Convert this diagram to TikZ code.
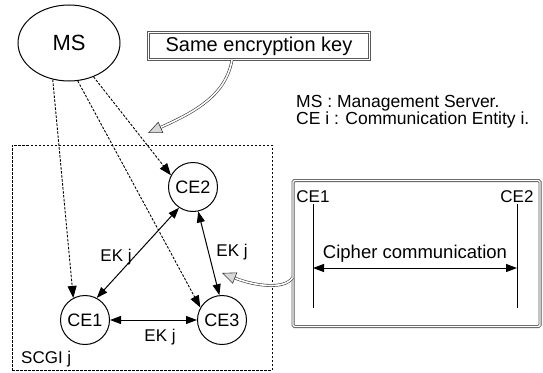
\documentclass[tikz,border=0pt]{standalone}
\usepackage{fontspec}
\setmainfont{Liberation Sans}
\usetikzlibrary{arrows.meta,shapes.geometric}
\begin{document}
\begin{tikzpicture}[x=1pt,y=-1pt,
  ce/.style={circle,draw,line width=1pt,minimum size=49pt,inner sep=0pt,font=\fontsize{18}{20}\selectfont},
  lbl/.style={font=\fontsize{17}{19}\selectfont,inner sep=1pt},
  dasharrow/.style={line width=0.9pt,dash pattern=on 2.5pt off 1.5pt,-{Triangle[length=12pt,width=9pt]}},
  solidarrow/.style={line width=1pt,{Triangle[length=11pt,width=8pt]}-{Triangle[length=11pt,width=8pt]}},
  framebox/.style={draw=gray!70!black,double=white,double distance=1.4pt,line width=0.8pt},
  bigarrow/.style={draw=gray!45!black,double=white,double distance=1.6pt,line width=0.6pt,
    -{Triangle[length=14pt,width=12pt,fill=gray!30,color=gray!45!black,line width=0.6pt]}}
]
\useasboundingbox (0,0) rectangle (543,372);
% MS
\node[ellipse,draw,line width=1pt,minimum width=102pt,minimum height=76pt,font=\fontsize{22}{24}\selectfont] (ms) at (69,43) {MS};
% same encryption key
\node[framebox,minimum width=221pt,minimum height=27pt,inner sep=0pt,font=\fontsize{20}{22}\selectfont] (key) at (259,46) {Same encryption key};
% legend
\node[anchor=west,font=\fontsize{17.5}{19}\selectfont,inner sep=0pt] (leg1) at (296,103) {MS : Management Server.};
\node[anchor=west,font=\fontsize{17.5}{19}\selectfont,inner sep=0pt] (leg2) at (296,120) {CE i : Communication Entity i.};
% group
\node[draw,dash pattern=on 2.5pt off 1.5pt,line width=0.9pt,minimum width=260pt,minimum height=225pt,inner sep=0pt] (scg) at (142,257.5) {};
\node[lbl,anchor=south west] (scgl) at (20,368) {SCGI j};
% CEs
\node[ce] (ce2) at (193,187) {CE2};
\node[ce] (ce1) at (85,320) {CE1};
\node[ce] (ce3) at (222,320) {CE3};
% dashed arrows
\draw[dasharrow] (ms.246) -- (ce1.118);
\draw[dasharrow] (ms.283) -- (ce3.150);
\draw[dasharrow] (ms.306) -- (ce2.152);
% solid arrows
\draw[solidarrow] (ce1.62) -- (ce2.236);
\draw[solidarrow] (ce2.282) -- (ce3.96);
\draw[solidarrow] (ce1.east) -- (ce3.west);
\node[lbl] (ek1) at (116,257) {EK j};
\node[lbl] (ek2) at (232,252) {EK j};
\node[lbl] (ek3) at (160,337) {EK j};
% right box
\node[framebox,rounded corners=1.5pt,minimum width=247pt,minimum height=146pt,inner sep=0pt] (cbox) at (416.5,253.5) {};
\node[lbl,font=\fontsize{17}{19}\selectfont] (c1) at (313,197) {CE1};
\node[lbl,font=\fontsize{17}{19}\selectfont] (c2) at (517,197) {CE2};
\coordinate (c1b) at (313,308);
\coordinate (c2b) at (517,308);
\draw[line width=1pt] (c1.south) -- (c1b);
\draw[line width=1pt] (c2.south) -- (c2b);
\coordinate (a1) at (313,268);
\coordinate (a2) at (517,268);
\draw[solidarrow] (a1) -- (a2);
\node[font=\fontsize{18.5}{20}\selectfont,inner sep=0pt] (ciph) at (415,254) {Cipher communication};
% big curved arrows
\coordinate (keytip) at (148,133);
\draw[bigarrow] ([xshift=-27pt]key.south) .. controls (226,95) and (195,112) .. (keytip);
\coordinate (ctip) at (222,273);
\draw[bigarrow] ([yshift=-24pt]cbox.west) .. controls (285,290) and (255,286) .. (ctip);
\end{tikzpicture}
\end{document}
